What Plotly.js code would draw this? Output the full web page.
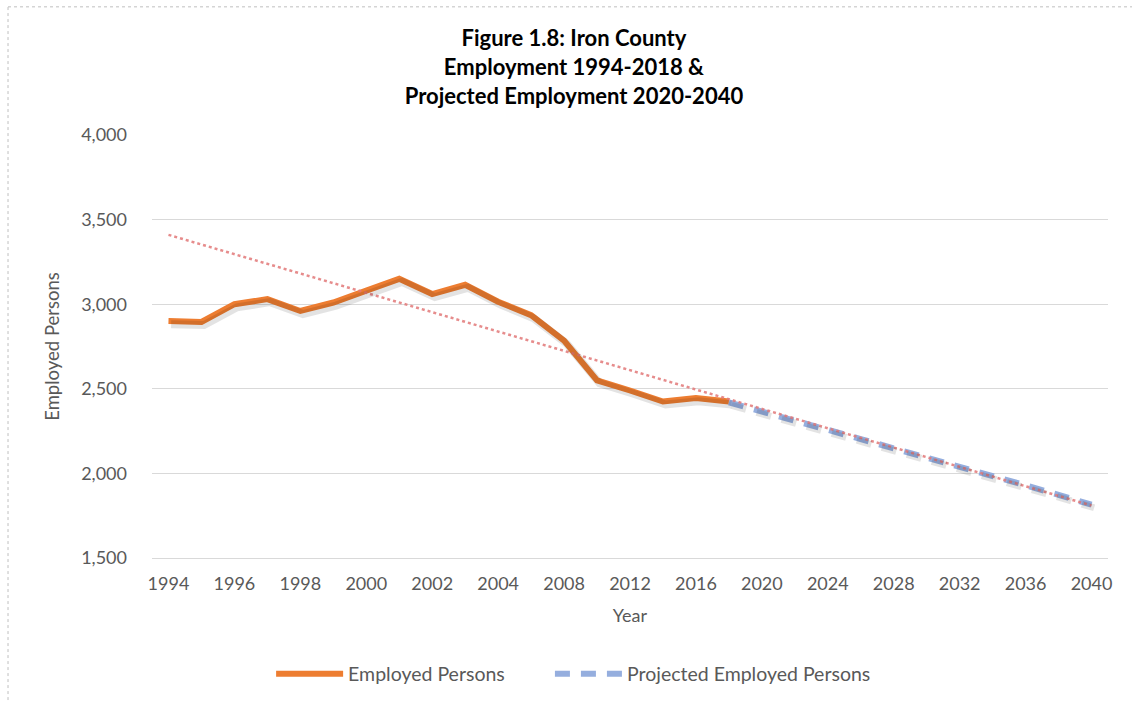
<!DOCTYPE html>
<html>
<head>
<meta charset="utf-8">
<script src="https://cdn.plot.ly/plotly-3.0.1.min.js"></script>
<style>
  body { margin: 0; background: #fff; }
  #chart { width: 1132px; height: 703px; }
</style>
</head>
<body>
<div id="chart"></div>
<script>
// categories on the x axis (annual to 2004, then every two years)
let years = ['1994','1995','1996','1997','1998','1999','2000','2001','2002','2003','2004',
             '2006','2008','2010','2012','2014','2016','2018',
             '2020','2022','2024','2026','2028','2030','2032','2034','2036','2038','2040']
let tick_labels = ['1994','1996','1998','2000','2002','2004','2008','2012','2016',
                   '2020','2024','2028','2032','2036','2040']

// Employed Persons 1994-2018
let employed_years = ['1994','1995','1996','1997','1998','1999','2000','2001','2002','2003','2004',
                      '2006','2008','2010','2012','2014','2016','2018']
let employed = [2900, 2895, 3000, 3030, 2960, 3010, 3080, 3150, 3060, 3115, 3015,
                2935, 2785, 2550, 2490, 2425, 2445, 2425]

// Projected Employed Persons 2018-2040
let projected_years = ['2018','2020','2022','2024','2026','2028','2030','2032','2034','2036','2038','2040']
let projected = [2420, 2368, 2312, 2258, 2203, 2148, 2095, 2040, 1985, 1930, 1873, 1815]

// linear trendline of employed persons (end points)
let trend_years = ['1994', '2040']
let trend = [3410, 1810]

let grey = '#595959'
let font_family = 'Lato, "Open Sans", sans-serif'

// soft drop shadow: same series on a slightly shifted overlay axis pair
let shadow_employed = {
  x: employed_years, y: employed,
  xaxis: 'x2', yaxis: 'y2',
  mode: 'lines', type: 'scatter',
  line: {color: 'rgba(0,0,0,0.11)', width: 8},
  showlegend: false, hoverinfo: 'skip'
}
let shadow_projected = {
  x: projected_years, y: projected,
  xaxis: 'x2', yaxis: 'y2',
  mode: 'lines', type: 'scatter',
  line: {color: 'rgba(0,0,0,0.11)', width: 7, dash: '15px,11px'},
  showlegend: false, hoverinfo: 'skip'
}

let trace_trend = {
  x: trend_years,
  y: trend,
  mode: 'lines',
  type: 'scatter',
  line: {color: 'rgba(226,120,120,0.85)', width: 2.5, dash: 'dot'},
  showlegend: false,
  hoverinfo: 'skip'
}

let trace_employed = {
  x: employed_years,
  y: employed,
  name: 'Employed Persons',
  mode: 'lines',
  type: 'scatter',
  legend: 'legend',
  line: {color: '#ED7D31', width: 6}
}

let trace_projected = {
  x: projected_years,
  y: projected,
  name: 'Projected Employed Persons',
  mode: 'lines',
  type: 'scatter',
  legend: 'legend2',
  line: {color: 'rgba(143,170,220,0.95)', width: 6, dash: '15px,11px'}
}

let legend_style = {
  orientation: 'h',
  xref: 'container', xanchor: 'left',
  yref: 'container', yanchor: 'middle',
  y: 0.041,
  font: {size: 19.5, color: grey},
  itemwidth: 67,
  bgcolor: 'rgba(0,0,0,0)'
}

let layout = {
  width: 1132,
  height: 703,
  paper_bgcolor: '#fff',
  plot_bgcolor: '#fff',
  margin: {l: 152, r: 24, t: 135, b: 145},
  font: {family: font_family, color: grey, size: 18},
  title: {
    text: '<b>Figure 1.8: Iron County<br>Employment 1994-2018 &<br>Projected Employment 2020-2040</b>',
    font: {family: font_family, color: '#000', size: 22},
    xref: 'container', x: 0.507, xanchor: 'center',
    yref: 'container', y: 0.934, yanchor: 'top'
  },
  xaxis: {
    type: 'category',
    categoryorder: 'array',
    categoryarray: years,
    range: [-0.5, years.length - 0.5],
    tickmode: 'array',
    tickvals: tick_labels,
    ticktext: tick_labels,
    ticks: '',
    showgrid: false,
    showline: true,
    linecolor: '#d9d9d9',
    linewidth: 1,
    ticklabelstandoff: 9,
    tickfont: {size: 18, color: grey},
    title: {text: 'Year', font: {size: 18, color: grey}, standoff: 16}
  },
  yaxis: {
    range: [1500, 4000],
    tickvals: [1500, 2000, 2500, 3000, 3500, 4000],
    tickformat: ',d',
    showgrid: true,
    gridcolor: '#d9d9d9',
    gridwidth: 1,
    zeroline: false,
    ticks: '',
    ticklabelstandoff: 24,
    tickfont: {size: 18, color: grey},
    title: {text: 'Employed Persons', font: {size: 18.5, color: grey}, standoff: 16}
  },
  xaxis2: {
    type: 'category',
    categoryorder: 'array',
    categoryarray: years,
    range: [-0.58, years.length - 0.58],
    overlaying: 'x',
    visible: false
  },
  yaxis2: {
    range: [1518, 4018],
    overlaying: 'y',
    visible: false
  },
  legend: Object.assign({}, legend_style, {x: 0.2395}),
  legend2: Object.assign({}, legend_style, {x: 0.4858}),
  shapes: [
    {type: 'line', xref: 'paper', yref: 'paper', x0: -0.1506, x1: -0.1506, y0: -0.35, y1: 1.303,
     line: {color: '#bfbfbf', width: 1, dash: 'dot'}},
    {type: 'line', xref: 'paper', yref: 'paper', x0: -0.1506, x1: 1.03, y0: 1.303, y1: 1.303,
     line: {color: '#bfbfbf', width: 1, dash: 'dot'}}
  ],
  showlegend: true
}

Plotly.newPlot('chart', [shadow_employed, shadow_projected, trace_employed, trace_projected, trace_trend], layout, {displayModeBar: false, staticPlot: true})
</script>
</body>
</html>
